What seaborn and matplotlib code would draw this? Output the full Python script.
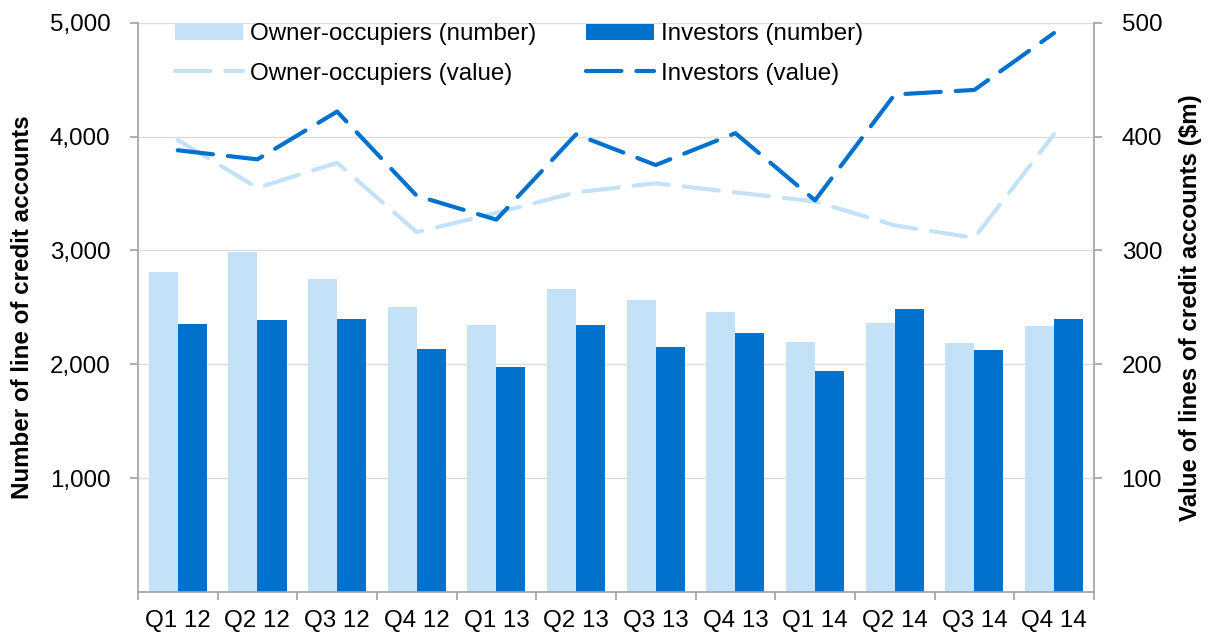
import numpy as np
import pandas as pd
import matplotlib.pyplot as plt
import seaborn as sns
from matplotlib.patches import Patch
from matplotlib.lines import Line2D

quarters = ['Q1 12', 'Q2 12', 'Q3 12', 'Q4 12', 'Q1 13', 'Q2 13',
            'Q3 13', 'Q4 13', 'Q1 14', 'Q2 14', 'Q3 14', 'Q4 14']

# number of line of credit accounts
owner_number = [2812, 2988, 2750, 2504, 2346, 2663, 2566, 2460, 2198, 2365, 2187, 2337]
investor_number = [2355, 2390, 2399, 2135, 1977, 2346, 2155, 2276, 1940, 2487, 2126, 2399]

# value of lines of credit accounts ($m)
owner_value = [397, 355, 377, 316, 333, 351, 359, 351, 343, 322, 311, 402]
investor_value = [388, 380, 422, 348, 327, 402, 375, 403, 344, 437, 441, 491]

light = '#C4E2F7'
dark = '#0071CD'
grey = '#A0A0A0'
fs = 17.4

sns.set_style('white')
plt.rcParams['font.family'] = ['Liberation Sans', 'DejaVu Sans']
plt.rcParams['text.color'] = 'black'
plt.rcParams['axes.labelcolor'] = 'black'
plt.rcParams['xtick.color'] = 'black'
plt.rcParams['ytick.color'] = 'black'

df = pd.DataFrame({
    'quarter': quarters * 2,
    'count': owner_number + investor_number,
    'group': ['Owner-occupiers (number)'] * len(quarters) + ['Investors (number)'] * len(quarters),
})

fig = plt.figure(figsize=(12.1, 6.33), dpi=100)
ax = fig.add_axes([0.114, 0.065, 0.79, 0.899])

sns.barplot(data=df, x='quarter', y='count', hue='group', palette=[light, dark],
            width=0.73, gap=0, saturation=1, linewidth=0, legend=False, ax=ax)

ax.set_xlim(-0.5, len(quarters) - 0.5)
ax.set_ylim(0, 5000)
ax.set_yticks([1000, 2000, 3000, 4000, 5000])
ax.set_yticklabels(['1,000', '2,000', '3,000', '4,000', '5,000'])
ax.yaxis.grid(True, color='#DCDCDC', lw=1)
ax.set_axisbelow(True)
ax.set_xlabel('')
ax.set_ylabel('Number of line of credit accounts', fontsize=fs, fontweight='bold', labelpad=11)

# category boundaries carry the tick marks
ax.set_xticks(np.arange(len(quarters)))
ax.set_xticklabels(quarters)
ax.set_xticks(np.arange(-0.5, len(quarters)), minor=True)
ax.tick_params(axis='x', which='major', bottom=True, length=0, labelsize=fs, pad=13)
ax.tick_params(axis='x', which='minor', bottom=True, length=6, width=1.2, color=grey, direction='out')
ax.tick_params(axis='y', left=True, length=6, width=1.2, color=grey, labelcolor='black',
               direction='out', labelsize=fs, pad=14)

for s in ['top', 'right']:
    ax.spines[s].set_visible(False)
for s in ['left', 'bottom']:
    ax.spines[s].set_color(grey)
    ax.spines[s].set_linewidth(1.2)

ax2 = ax.twinx()
dash = (0, (8.5, 3.6))
x = np.arange(len(quarters))
sns.lineplot(x=x, y=owner_value, color=light, lw=3, linestyle=dash,
             dash_capstyle='round', ax=ax2)
sns.lineplot(x=x, y=investor_value, color=dark, lw=3, linestyle=dash,
             dash_capstyle='round', ax=ax2)
ax2.set_ylim(0, 500)
ax2.set_yticks([100, 200, 300, 400, 500])
ax2.set_ylabel('Value of lines of credit accounts ($m)', fontsize=fs, fontweight='bold', labelpad=12)
ax2.tick_params(axis='y', right=True, length=6, width=1.2, color=grey, labelcolor='black',
                direction='out', labelsize=fs, pad=14)
ax2.grid(False)
for s in ['top', 'left', 'bottom']:
    ax2.spines[s].set_visible(False)
ax2.spines['right'].set_color(grey)
ax2.spines['right'].set_linewidth(1.2)

handles = [
    Patch(facecolor=light, edgecolor='none'),
    Line2D([], [], color=light, lw=3, linestyle=dash, dash_capstyle='round'),
    Patch(facecolor=dark, edgecolor='none'),
    Line2D([], [], color=dark, lw=3, linestyle=dash, dash_capstyle='round'),
]
labels = ['Owner-occupiers (number)', 'Owner-occupiers (value)',
          'Investors (number)', 'Investors (value)']
fig.legend(handles, labels, ncol=2, loc='upper left', bbox_to_anchor=(0.145, 0.963),
           frameon=False, fontsize=fs, handlelength=2.8, handletextpad=0.3,
           columnspacing=2.05, labelspacing=0.72, borderpad=0, borderaxespad=0)

fig.savefig('out.png', dpi=100)
